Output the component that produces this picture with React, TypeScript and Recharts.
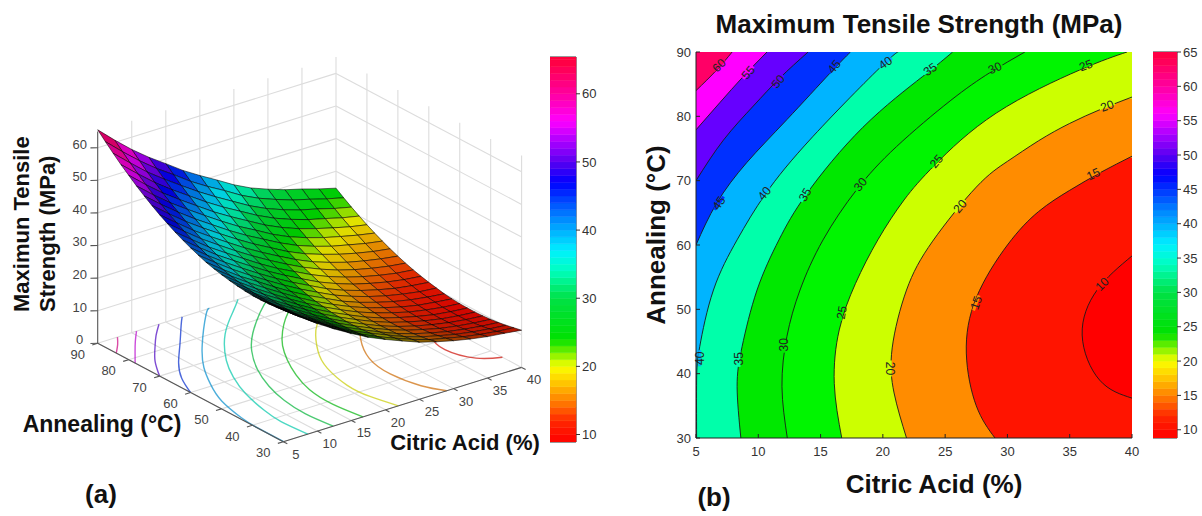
import React from "react";
import {
  Area, Bar, BarChart, ComposedChart, ReferenceArea, ReferenceDot, Scatter, ScatterChart, XAxis, YAxis,
} from "recharts";

/* ---------- data ---------- */
const citricGrid = [5, 7.5, 10, 12.5, 15, 17.5, 20, 22.5, 25, 27.5, 30, 32.5, 35, 37.5, 40];
const annealGrid = [30, 32.5, 35, 37.5, 40, 42.5, 45, 47.5, 50, 52.5, 55, 57.5, 60, 62.5, 65, 67.5, 70, 72.5, 75, 77.5, 80, 82.5, 85, 87.5, 90];
const strength: number[][] = [
  [40.4, 40.1, 39.9, 39.8, 39.8, 40.0, 40.3, 40.7, 41.2, 41.8, 42.5, 43.4, 44.4, 45.5, 46.7, 48.1, 49.5, 51.1, 52.8, 54.6, 56.6, 58.6, 60.8, 63.1, 65.5],
  [36.6, 36.3, 36.1, 36.0, 36.0, 36.2, 36.4, 36.8, 37.3, 37.9, 38.6, 39.5, 40.4, 41.5, 42.7, 44.0, 45.4, 46.9, 48.5, 50.2, 52.1, 54.1, 56.2, 58.4, 60.7],
  [33.0, 32.7, 32.5, 32.4, 32.4, 32.6, 32.8, 33.2, 33.7, 34.3, 34.9, 35.8, 36.7, 37.7, 38.8, 40.1, 41.4, 42.9, 44.5, 46.1, 47.9, 49.8, 51.8, 54.0, 56.2],
  [29.7, 29.5, 29.3, 29.2, 29.2, 29.4, 29.6, 30.0, 30.4, 31.0, 31.7, 32.4, 33.3, 34.3, 35.4, 36.6, 37.9, 39.3, 40.8, 42.5, 44.2, 46.0, 48.0, 50.0, 52.2],
  [26.7, 26.4, 26.2, 26.1, 26.1, 26.2, 26.5, 26.8, 27.2, 27.8, 28.4, 29.2, 30.0, 31.0, 32.1, 33.2, 34.5, 35.9, 37.4, 39.0, 40.7, 42.5, 44.4, 46.5, 48.6],
  [23.9, 23.6, 23.3, 23.2, 23.2, 23.3, 23.5, 23.8, 24.2, 24.7, 25.3, 26.1, 26.9, 27.8, 28.8, 30.0, 31.2, 32.6, 34.0, 35.6, 37.2, 39.0, 40.9, 42.8, 44.9],
  [21.6, 21.2, 21.0, 20.8, 20.7, 20.7, 20.9, 21.1, 21.5, 21.9, 22.5, 23.2, 24.0, 24.9, 25.8, 27.0, 28.2, 29.5, 30.9, 32.4, 34.1, 35.8, 37.7, 39.6, 41.7],
  [19.5, 19.1, 18.8, 18.5, 18.4, 18.4, 18.5, 18.7, 19.0, 19.4, 20.0, 20.6, 21.4, 22.2, 23.2, 24.2, 25.4, 26.7, 28.1, 29.6, 31.2, 32.9, 34.7, 36.7, 38.7],
  [17.5, 17.1, 16.7, 16.4, 16.3, 16.2, 16.3, 16.4, 16.7, 17.1, 17.5, 18.1, 18.8, 19.6, 20.6, 21.6, 22.7, 23.9, 25.3, 26.7, 28.3, 30.0, 31.7, 33.6, 35.6],
  [16.0, 15.4, 15.0, 14.7, 14.5, 14.4, 14.4, 14.5, 14.8, 15.1, 15.5, 16.1, 16.7, 17.5, 18.4, 19.4, 20.4, 21.6, 22.9, 24.3, 25.9, 27.5, 29.2, 31.1, 33.0],
  [14.7, 14.2, 13.7, 13.3, 13.1, 12.9, 12.9, 13.0, 13.2, 13.5, 13.9, 14.4, 15.0, 15.7, 16.6, 17.5, 18.6, 19.8, 21.0, 22.4, 23.9, 25.5, 27.2, 29.1, 31.0],
  [13.6, 13.0, 12.5, 12.1, 11.8, 11.7, 11.6, 11.7, 11.8, 12.1, 12.5, 13.0, 13.6, 14.3, 15.1, 16.0, 17.0, 18.2, 19.4, 20.8, 22.3, 23.8, 25.5, 27.3, 29.2],
  [12.7, 12.1, 11.6, 11.2, 10.9, 10.7, 10.6, 10.6, 10.8, 11.0, 11.4, 11.9, 12.4, 13.1, 13.9, 14.8, 15.8, 16.9, 18.2, 19.5, 20.9, 22.5, 24.2, 25.9, 27.8],
  [12.1, 11.4, 10.9, 10.5, 10.2, 10.0, 9.9, 9.9, 10.0, 10.3, 10.6, 11.0, 11.6, 12.2, 12.9, 13.8, 14.8, 15.8, 17.0, 18.3, 19.6, 21.1, 22.7, 24.4, 26.2],
  [11.4, 10.9, 10.4, 10.0, 9.7, 9.5, 9.4, 9.4, 9.5, 9.7, 10.0, 10.5, 11.0, 11.6, 12.3, 13.1, 14.0, 15.0, 16.1, 17.3, 18.6, 20.0, 21.5, 23.1, 24.8],
];

const contour10 = [[40, 36.2], [37.4, 39], [36, 46], [37.2, 53], [40, 58.3]];
const contour15 = [[29, 30], [27.5, 35], [26.7, 43.2], [27.5, 51.8], [30, 60], [32.5, 65.2], [35, 68.5], [37.5, 71.3], [40, 73.8]];
const contour20 = [[21.9, 30], [20.9, 37], [20.75, 44], [21.9, 53], [24, 60.6], [27.5, 69], [30, 73], [32.5, 76.2], [35, 78.9], [37.5, 81.1], [40, 83]];
const contour25 = [[16.7, 30], [16.1, 38.5], [16.5, 46.8], [17.8, 54], [19.6, 60.8], [21.7, 67], [24.2, 72.5], [29.1, 80.5], [35.8, 87.2], [39.6, 90]];
const contour30 = [[12.33, 30], [11.9, 38], [12.3, 45.8], [13.35, 53], [15.2, 60.8], [17.9, 68.6], [21.1, 75.3], [25.4, 82.4], [28.6, 86.8], [31.4, 90]];
const contour35 = [[8.6, 30], [8.3, 38], [8.7, 44.2], [9.9, 53], [11.66, 60.8], [13.9, 68], [18.4, 78.3], [23.2, 86.2], [25.6, 90]];
const contour40 = [[5.05, 30], [5.05, 39], [5.3, 44.2], [6.4, 53], [8.3, 60.8], [10.6, 68], [14.4, 76.9], [20, 88], [21.4, 90]];
const contour45 = [[5, 60], [6.66, 66.5], [9.07, 72.8], [12.3, 79.5], [15.75, 86.7], [17.4, 90]];
const contour50 = [[5, 70], [7.2, 76.3], [9.6, 81.6], [11.7, 85.9], [14, 90]];
const contour55 = [[5, 77.9], [6.9, 82.1], [8.8, 86.2], [10.7, 90]];
const contour60 = [[5, 84], [6.66, 87.2], [7.9, 90]];

const contourLevels = [10, 15, 20, 25, 30, 35, 40, 45, 50, 55, 60];
const contourCurves = [contour10, contour15, contour20, contour25, contour30, contour35, contour40, contour45, contour50, contour55, contour60];
const bandColors = ["#ff1400", "#ff8c00", "#ccff00", "#00f500", "#00e800", "#00ffaa", "#00b4ff", "#0030ff", "#6600ff", "#ff00ff", "#ff0066"];

// level, citric, annealing, rotation
const contourLabels: [number, number, number, number][] = [
  [60, 6.85, 87.9, -45], [55, 9.2, 86.8, -50], [50, 11.6, 85.4, -50], [45, 16.1, 87.7, -50], [45, 6.85, 66.5, -55],
  [40, 20.2, 88.3, -35], [40, 10.5, 68, -50], [40, 5.3, 42.4, -90], [35, 23.8, 87.3, -35], [35, 13.75, 67.8, -60],
  [35, 8.45, 42.3, -90], [30, 29, 87.5, -25], [30, 18.2, 69.4, -50], [30, 12.1, 44.5, -90], [25, 36.3, 87.9, -20],
  [25, 24.3, 73, -50], [25, 16.7, 49.5, -80], [20, 38, 81.6, -20], [20, 26.2, 66, -50], [20, 20.6, 40.8, 90],
  [15, 36.9, 71, -25], [15, 27.5, 51, -70], [10, 37.6, 53.9, -45],
];

const citricTicks = [5, 10, 15, 20, 25, 30, 35, 40];
const annealTicks = [30, 40, 50, 60, 70, 80, 90];
const strengthTicks3D = [0, 10, 20, 30, 40, 50, 60];
const barTicksLeft = [10, 20, 30, 40, 50, 60];
const barTicksRight = [10, 15, 20, 25, 30, 35, 40, 45, 50, 55, 60, 65];
const barLevels = [10, 11, 12, 13, 14, 15, 16, 17, 18, 19, 20, 21, 22, 23, 24, 25, 26, 27, 28, 29, 30, 31, 32, 33, 34, 35, 36, 37, 38, 39, 40, 41, 42, 43, 44, 45, 46, 47, 48, 49, 50, 51, 52, 53, 54, 55, 56, 57, 58, 59, 60, 61, 62, 63, 64, 65, 66];

/* ---------- colour map ---------- */
const mapStops: [number, number[]][] = [
  [9, [255, 0, 0]], [12, [255, 40, 0]], [15, [255, 130, 0]], [18, [255, 210, 0]], [20, [250, 255, 0]], [22, [120, 240, 0]],
  [24, [0, 225, 0]], [30, [0, 225, 70]], [34, [0, 255, 190]], [37, [0, 240, 255]], [42, [0, 130, 255]], [47, [0, 0, 255]],
  [50, [90, 0, 240]], [53, [170, 0, 255]], [56, [255, 0, 255]], [60, [255, 0, 160]], [65, [255, 0, 60]],
];
function mapRgb(z: number): number[] {
  if (z <= mapStops[0][0]) return mapStops[0][1];
  for (let i = 1; i < mapStops.length; i++) {
    if (z <= mapStops[i][0]) {
      const [a, ca] = mapStops[i - 1];
      const [b, cb] = mapStops[i];
      const f = (z - a) / (b - a);
      return ca.map((v, k) => Math.round(v + (cb[k] - v) * f));
    }
  }
  return mapStops[mapStops.length - 1][1];
}
const mapColor = (z: number, m = 1) => {
  const c = mapRgb(z);
  return `rgb(${Math.round(c[0] * m)},${Math.round(c[1] * m)},${Math.round(c[2] * m)})`;
};

/* ---------- oblique view of the box, in the units of the left chart ---------- */
const project = (c: number, t: number, z: number) => {
  const u = (c - 5) / 35;
  const v = (90 - t) / 60;
  return { x: 97.7 + 238.3 * u + 185.6 * v, y: 343.3 - 74.3 * u + 98.4 * v - 3.26 * z };
};

const ZTOP = 65;
const gridPts: { x: number; y: number }[] = [];
const seg = (list: { x: number; y: number }[], a: { x: number; y: number }, b: { x: number; y: number }) => list.push(a, b);
citricTicks.forEach((c) => {
  seg(gridPts, project(c, 90, 0), project(c, 30, 0));
  if (c > 5) seg(gridPts, project(c, 90, 0), project(c, 90, ZTOP));
});
annealTicks.forEach((t) => {
  seg(gridPts, project(5, t, 0), project(40, t, 0));
  if (t < 90) seg(gridPts, project(40, t, 0), project(40, t, ZTOP));
});
strengthTicks3D.slice(1).forEach((z) => {
  seg(gridPts, project(5, 90, z), project(40, 90, z));
  seg(gridPts, project(40, 90, z), project(40, 30, z));
});

const axisPts: { x: number; y: number }[] = [];
seg(axisPts, project(5, 90, 0), project(5, 90, ZTOP));
seg(axisPts, project(5, 90, 0), project(5, 30, 0));
seg(axisPts, project(5, 30, 0), project(40, 30, 0));
strengthTicks3D.forEach((z) => seg(axisPts, project(5, 90, z), project(4.3, 90.8, z)));
annealTicks.forEach((t) => seg(axisPts, project(5, t, 0), project(4.2, t, 0)));
citricTicks.forEach((c) => seg(axisPts, project(c, 30, 0), project(c, 28.7, 0)));

const labelPts = [
  ...strengthTicks3D.map((z) => { const p = project(5, 90, z); return { x: p.x - 18, y: p.y - 3.7, label: String(z) }; }),
  ...annealTicks.map((t) => { const p = project(5, t, 0); return { x: p.x - 20, y: p.y + 11, label: String(t) }; }),
  ...citricTicks.map((c) => { const p = project(c, 30, 0); return { x: p.x + 12.5, y: p.y + 12.5, label: String(c) }; }),
];

const surfacePts: { x: number; y: number }[] = [];
citricGrid.forEach((c, i) => annealGrid.forEach((t, j) => surfacePts.push(project(c, t, strength[i][j]))));

const drawSegments = (stroke: string, width: number) => (props: any) => {
  const pts = props.points as { x: number; y: number }[];
  const out: React.ReactElement[] = [];
  for (let i = 0; i + 1 < pts.length; i += 2) {
    out.push(<line key={i} x1={pts[i].x} y1={pts[i].y} x2={pts[i + 1].x} y2={pts[i + 1].y} stroke={stroke} strokeWidth={width} />);
  }
  return <g>{out}</g>;
};

const drawSurface = (props: any) => {
  const pts = props.points as { x: number; y: number }[];
  const nT = annealGrid.length;
  const cells: React.ReactElement[] = [];
  for (let i = citricGrid.length - 2; i >= 0; i--) {
    for (let j = nT - 2; j >= 0; j--) {
      const a = pts[i * nT + j];
      const b = pts[(i + 1) * nT + j];
      const d = pts[(i + 1) * nT + j + 1];
      const e = pts[i * nT + j + 1];
      const area = Math.abs((d.x - a.x) * (e.y - b.y) - (e.x - b.x) * (d.y - a.y)) / 2;
      const longest = Math.max(Math.hypot(b.x - a.x, b.y - a.y), Math.hypot(e.x - a.x, e.y - a.y));
      const thickness = area / longest;
      const z = (strength[i][j] + strength[i + 1][j] + strength[i][j + 1] + strength[i + 1][j + 1]) / 4;
      const m = Math.min(0.95, Math.max(0.03, 1.02 - 1.15 / thickness));
      cells.push(
        <polygon
          key={`${i}-${j}`}
          points={`${a.x},${a.y} ${b.x},${b.y} ${d.x},${d.y} ${e.x},${e.y}`}
          fill={mapColor(z, m)}
          stroke="#000"
          strokeWidth={0.55}
        />
      );
    }
  }
  return <g>{cells}</g>;
};

const none = () => <g />;
const FONT = "'Liberation Sans', Arial, sans-serif";
const PAD = 10;

const ColorBar = ({ left, top, height, domain, ticks, width }: any) => {
  const row: Record<string, number> = { k: 0 };
  barLevels.forEach((lv, i) => { row[`s${lv}`] = i === 0 ? lv : 1; });
  return (
    <div style={{ position: "absolute", left, top: top - PAD }}>
      <BarChart width={width + 30} height={height + 2 * PAD} data={[row]} barCategoryGap={0} margin={{ top: PAD, right: 0, bottom: PAD, left: 0 }}>
        <XAxis dataKey="k" hide />
        <YAxis
          type="number" orientation="right" width={30} domain={domain} ticks={ticks} allowDataOverflow interval={0}
          axisLine={false} tickSize={4} tickMargin={2} stroke="#333"
          tick={{ fontSize: 13, fontFamily: FONT, fill: "#333" }}
        />
        {barLevels.map((lv) => (
          <Bar key={lv} dataKey={`s${lv}`} stackId="bar" fill={mapColor(lv - 0.5)} stroke={mapColor(lv - 0.5)} strokeWidth={0.5} isAnimationActive={false} />
        ))}
        <ReferenceArea y1={domain[0]} y2={domain[1]} fill="none" stroke="#333" strokeWidth={1} ifOverflow="visible" />
      </BarChart>
    </div>
  );
};

// the flat part of a band beyond where its contour leaves the plot
const bandFill = (idx: number) => {
  const curve = contourCurves[idx];
  const out: { c: number; t: number }[][] = [];
  const endT = curve[curve.length - 1][1];
  if (endT < 90) out.push([{ c: 40, t: endT - 0.25 }, { c: 40, t: 90 }]);
  if (idx === 0) out.push([{ c: 40, t: 30 }, { c: 40, t: curve[0][1] + 0.25 }]);
  return out;
};
const baseRows = [{ c: 40, t: 30 }, { c: 40, t: 90 }];

export default function App() {
  return (
    <div style={{ position: "fixed", left: 0, top: 0, width: 1202, height: 516, background: "#fff", overflow: "hidden" }}>
      <div style={{ position: "absolute", left: 0, top: 0 }}>
        <ScatterChart width={600} height={516} margin={{ top: 0, right: 0, bottom: 0, left: 0 }}>
          <XAxis type="number" dataKey="x" domain={[0, 600]} hide allowDataOverflow />
          <YAxis type="number" dataKey="y" domain={[0, 516]} reversed hide allowDataOverflow />
          <Scatter data={gridPts} shape={none} line={drawSegments("#dcdcdc", 1.1)} isAnimationActive={false} />
          {contourCurves.map((curve, i) => (
            <Scatter
              key={contourLevels[i]}
              data={curve.map(([c, t]) => project(c, t, 0))}
              shape={none}
              line={{ stroke: mapColor(contourLevels[i], 0.8), strokeWidth: 1.4, strokeOpacity: 0.7 }}
              lineJointType="natural"
              isAnimationActive={false}
            />
          ))}
          <Scatter data={surfacePts} shape={none} line={drawSurface} isAnimationActive={false} />
          <Scatter data={axisPts} shape={none} line={drawSegments("#555", 1.1)} isAnimationActive={false} />
          <Scatter
            data={labelPts}
            isAnimationActive={false}
            shape={(p: any) => (
              <text x={p.cx} y={p.cy} textAnchor="middle" dominantBaseline="central" fontSize={13} fontFamily={FONT} fill="#444">
                {p.payload.label}
              </text>
            )}
          />
        </ScatterChart>
      </div>

      <ColorBar left={550} top={57} height={385} width={26} domain={[8.9, 65.4]} ticks={barTicksLeft} />

      <div style={{ position: "absolute", left: 640, top: 0 }}>
        <ComposedChart layout="vertical" width={500} height={516} margin={{ top: 52, right: 8, bottom: 48, left: 20 }}>
          <XAxis
            type="number" domain={[5, 40]} ticks={citricTicks} height={30} allowDataOverflow interval={0}
            tickSize={-4} tickMargin={13} stroke="#222" tick={{ fontSize: 13, fontFamily: FONT, fill: "#333" }}
          />
          <YAxis
            type="number" dataKey="t" domain={[30, 90]} reversed ticks={annealTicks} width={36} allowDataOverflow interval={0}
            tickSize={-4} tickMargin={9} stroke="#222" tick={{ fontSize: 13, fontFamily: FONT, fill: "#333" }}
          />
          <XAxis xAxisId="top" orientation="top" type="number" domain={[5, 40]} ticks={citricTicks} height={0} mirror tickSize={4} tick={none} stroke="#222" interval={0} />
          <YAxis yAxisId="right" orientation="right" type="number" dataKey="t" domain={[30, 90]} reversed ticks={annealTicks} width={0} mirror tickSize={4} tick={none} stroke="#222" interval={0} />
          <Area data={baseRows} dataKey="c" type="linear" fill="#ff0000" fillOpacity={1} stroke="none" dot={false} activeDot={false} isAnimationActive={false} />
          {contourLevels.map((lv, i) => (
            <React.Fragment key={lv}>
              {bandFill(i).map((rows, k) => (
                <Area key={k} data={rows} dataKey="c" type="linear" fill={bandColors[i]} fillOpacity={1} stroke="none" dot={false} activeDot={false} isAnimationActive={false} />
              ))}
              <Area
                data={contourCurves[i].map(([c, t]) => ({ c, t }))}
                dataKey="c"
                type="natural"
                fill={bandColors[i]}
                fillOpacity={1}
                stroke="#1a1a1a"
                strokeWidth={0.9}
                dot={false}
                activeDot={false}
                isAnimationActive={false}
              />
            </React.Fragment>
          ))}
          {contourLabels.map(([lv, c, t, rot], i) => (
            <ReferenceDot
              key={i}
              x={c}
              y={t}
              ifOverflow="visible"
              shape={(p: any) => (
                <g transform={`translate(${p.cx},${p.cy}) rotate(${rot})`}>
                  <rect x={-8} y={-1.5} width={16} height={3} fill={bandColors[contourLevels.indexOf(lv)]} />
                  <text textAnchor="middle" dominantBaseline="central" fontSize={12} fontFamily={FONT} fill="#222">{lv}</text>
                </g>
              )}
            />
          ))}
        </ComposedChart>
      </div>

      <ColorBar left={1153} top={52} height={386} width={24} domain={[8.8, 65]} ticks={barTicksRight} />

      <svg width={1202} height={516} style={{ position: "absolute", left: 0, top: 0, pointerEvents: "none" }} fontFamily={FONT} fontWeight="bold" fill="#111">
        <text x={919} y={33} textAnchor="middle" fontSize={26}>Maximum Tensile Strength (MPa)</text>
        <text x={934} y={493} textAnchor="middle" fontSize={26}>Citric Acid (%)</text>
        <text transform="translate(665,235) rotate(-90)" textAnchor="middle" fontSize={26}>Annealing (°C)</text>
        <text x={102} y={432} textAnchor="middle" fontSize={23}>Annealing (°C)</text>
        <text x={465} y={450} textAnchor="middle" fontSize={22}>Citric Acid (%)</text>
        <text transform="translate(29,312) rotate(-90)" fontSize={22}>Maximun Tensile</text>
        <text transform="translate(55,312) rotate(-90)" fontSize={22}>Strength (MPa)</text>
        <text x={101} y={503} textAnchor="middle" fontSize={26}>(a)</text>
        <text x={714} y={506} textAnchor="middle" fontSize={26}>(b)</text>
      </svg>
    </div>
  );
}
